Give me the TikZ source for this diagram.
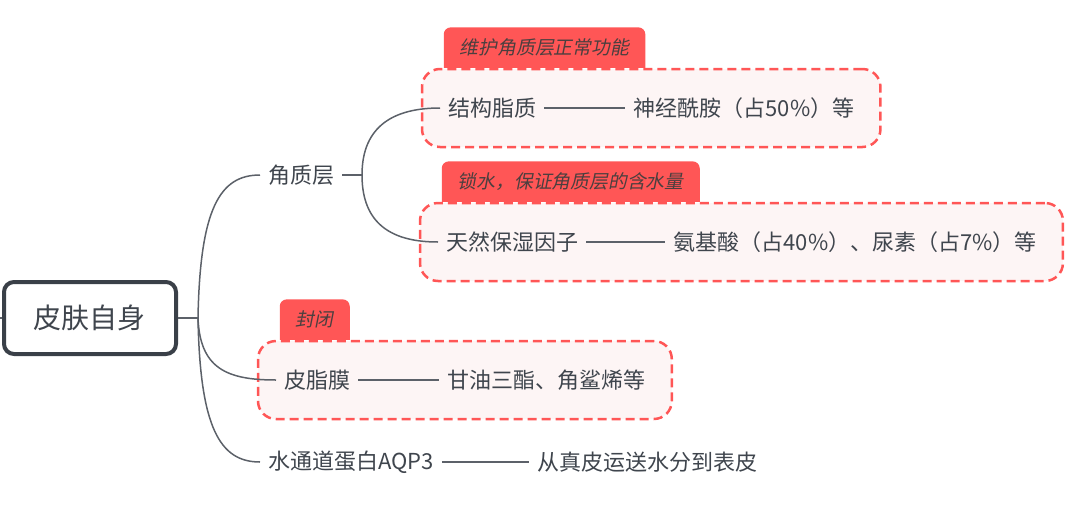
\documentclass[tikz,border=0pt]{standalone}
\usepackage{fontspec}
\setmainfont{Noto Sans CJK SC}
\newfontfamily\slantcjk{Noto Sans CJK SC}[FakeSlant=0.2]
\usepackage{xcolor}
\usepackage{tikz}
\usetikzlibrary{positioning, fit, backgrounds}
\definecolor{inkgray} {HTML}{3F454D}
\definecolor{rootgray}{HTML}{3A4048}
\definecolor{linkgray}{HTML}{5C6169}
\definecolor{tabred}  {HTML}{FF5656}
\definecolor{boxpink} {HTML}{FDF5F5}
\definecolor{tabtext} {HTML}{4B3F3F}
\newcommand\rootsize{\fontsize{28pt}{32pt}\selectfont}
\newcommand\topicsize{\fontsize{22pt}{26pt}\selectfont}
\newcommand\tabsize{\fontsize{18.8pt}{22pt}\selectfont}

\begin{document}
\begin{tikzpicture}[
    x=1pt, y=-1pt,
    rootbox/.style = {
        draw=rootgray, line width=4pt, rounded corners=10pt,
        fill=white, minimum width=172pt, minimum height=72pt,
        font=\rootsize, text=inkgray
    },
    topic/.style   = {inner xsep=8pt, inner ysep=4pt, anchor=west,
                      font=\topicsize, text=inkgray},
    grpbox/.style  = {draw=tabred, dash pattern=on 9pt off 5pt,
                      line width=2.5pt, rounded corners=18pt,
                      fill=boxpink, inner xsep=18pt, inner ysep=4pt,
                      minimum height=78pt},
    tabbox/.style  = {inner xsep=16pt, minimum height=40pt,
                      anchor=south west, font=\slantcjk\tabsize,
                      text=tabtext},
    link/.style    = {draw=linkgray, line width=1.5pt}
  ]
  \useasboundingbox (0,0) rectangle (1080,504);

  %% root
  \coordinate (edge) at (0,318);
  \node[rootbox] (root) at (90,318) {皮肤自身};
  \coordinate (hub) at (198,318);

  %% first level
  \node[topic] (jzc) at (260,175) {角质层};
  \node[topic] (pzm) at (276,380) {皮脂膜};
  \node[topic, right=81pt of pzm] (gyz) {甘油三酯、角鲨烯等};
  \node[topic] (sdb) at (260,462) {水通道蛋白AQP3};
  \node[topic, right=87pt of sdb] (ysf) {从真皮运送水分到表皮};

  %% second level
  \coordinate (hubk) at (362,175);
  \node[topic] (jgz) at (440,108) {结构脂质};
  \node[topic, right=81pt of jgz] (sjx) {神经酰胺（占50\%）等};
  \node[topic] (trb) at (438,242) {天然保湿因子};
  \node[topic, right=79pt of trb] (ajs) {氨基酸（占40\%）、尿素（占7\%）等};

  %% dashed groups
  \begin{scope}[on background layer]
    \node[grpbox, fit=(jgz)(sjx)] (grpA) {};
    \node[grpbox, fit=(trb)(ajs)] (grpB) {};
    \node[grpbox, fit=(pzm)(gyz)] (grpC) {};
  \end{scope}

  %% tabs
  \node[tabbox] (tabA) at ([xshift=23pt]grpA.north west) {维护角质层正常功能};
  \node[tabbox] (tabB) at ([xshift=23pt]grpB.north west) {锁水，保证角质层的含水量};
  \node[tabbox] (tabC) at ([xshift=23pt]grpC.north west) {封闭};
  \begin{scope}[on background layer]
    \foreach \tb in {tabA,tabB,tabC}
      \fill[tabred, rounded corners=7pt] (\tb.south west) -- (\tb.north west)
        -- (\tb.north east) [sharp corners] -- (\tb.south east) -- cycle;
  \end{scope}

  %% connectors
  \draw[link] (edge) -- (root.west);
  \draw[link] (root.east) -- (hub);
  \draw[link] (hub) .. controls +(2,-110) and +(-40,0) .. (jzc.west);
  \draw[link] (hub) .. controls +(2,50) and +(-50,0) .. (pzm.west);
  \draw[link] (hub) .. controls +(2,110) and +(-40,0) .. (sdb.west);
  \draw[link] (jzc.east) -- (hubk);
  \draw[link] (hubk) .. controls +(0,-50) and +(-45,0) .. (jgz.west);
  \draw[link] (hubk) .. controls +(0,50) and +(-45,0) .. (trb.west);
  \draw[link] (jgz.east) -- (sjx.west);
  \draw[link] (trb.east) -- (ajs.west);
  \draw[link] (pzm.east) -- (gyz.west);
  \draw[link] (sdb.east) -- (ysf.west);

\end{tikzpicture}
\end{document}
